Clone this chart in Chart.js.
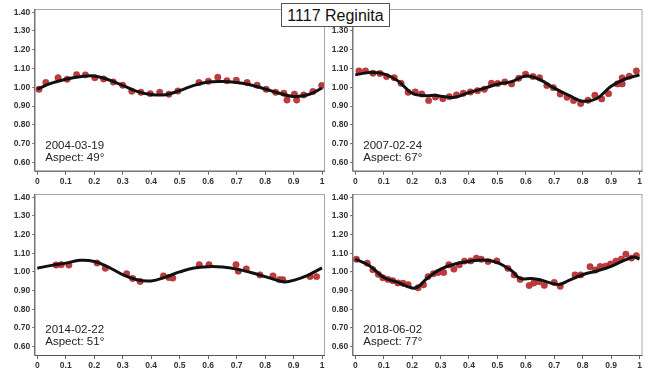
<!DOCTYPE html>
<html>
<head>
<meta charset="utf-8">
<script src="https://cdn.jsdelivr.net/npm/chart.js@4"></script>
<style>
  body { margin: 0; background: #fff; }
  #wrap { position: relative; width: 647px; height: 373px; overflow: hidden; background: #fff; }
  #wrap canvas { position: absolute; }
  #title {
    position: absolute; left: 281px; top: 3px; width: 107px; height: 22px;
    border: 1px solid #555; background: #fff; z-index: 5;
    font: 16px "Liberation Sans", Arial, sans-serif; color: #111;
    text-align: center; line-height: 23px;
  }
</style>
</head>
<body>
<div id="wrap">
  <canvas id="c0" width="330" height="190" style="left:0;top:0"></canvas>
  <canvas id="c1" width="327" height="190" style="left:320px;top:0"></canvas>
  <canvas id="c2" width="330" height="193" style="left:0;top:180px"></canvas>
  <canvas id="c3" width="327" height="193" style="left:320px;top:180px"></canvas>
  <div id="title">1117 Reginita</div>
</div>
<script>
// axis ticks
const xTicks = [0, 0.1, 0.2, 0.3, 0.4, 0.5, 0.6, 0.7, 0.8, 0.9, 1];
const yTicks = [0.6, 0.7, 0.8, 0.9, 1.0, 1.1, 1.2, 1.3, 1.4];

// session labels
const dates = ['2004-03-19', '2007-02-24', '2014-02-22', '2018-06-02'];
const aspects = [49, 67, 51, 77];

// 2004-03-19
const obs2004Phase = [0.006, 0.030, 0.073, 0.105, 0.138, 0.169, 0.202, 0.233, 0.267, 0.300, 0.332, 0.364, 0.397, 0.430, 0.462, 0.494, 0.568, 0.601, 0.634, 0.666, 0.699, 0.737, 0.772, 0.804, 0.837, 0.866, 0.877, 0.903, 0.911, 0.936, 0.968, 0.999];
const obs2004Mag = [0.989, 1.025, 1.051, 1.043, 1.067, 1.066, 1.051, 1.044, 1.028, 1.011, 0.979, 0.973, 0.966, 0.973, 0.963, 0.980, 1.025, 1.032, 1.053, 1.035, 1.037, 1.025, 1.011, 0.989, 0.973, 0.968, 0.932, 0.963, 0.932, 0.959, 0.977, 1.009];
const fit2004Phase = [0, 0.05, 0.1, 0.15, 0.2, 0.25, 0.3, 0.35, 0.4, 0.45, 0.5, 0.55, 0.6, 0.65, 0.7, 0.75, 0.8, 0.85, 0.9, 0.95, 1];
const fit2004Mag = [0.99, 1.022, 1.043, 1.056, 1.06, 1.04, 1.01, 0.978, 0.961, 0.96, 0.982, 1.01, 1.028, 1.031, 1.025, 1.012, 0.991, 0.968, 0.951, 0.96, 0.995];

// 2007-02-24
const obs2007Phase = [0.013, 0.036, 0.062, 0.087, 0.110, 0.137, 0.161, 0.186, 0.211, 0.234, 0.258, 0.282, 0.308, 0.331, 0.356, 0.380, 0.405, 0.430, 0.454, 0.479, 0.501, 0.526, 0.550, 0.575, 0.599, 0.625, 0.648, 0.674, 0.697, 0.721, 0.745, 0.768, 0.793, 0.819, 0.843, 0.867, 0.891, 0.922, 0.939, 0.939, 0.964, 0.989];
const obs2007Mag = [1.087, 1.087, 1.075, 1.073, 1.057, 1.051, 1.021, 0.973, 0.975, 0.964, 0.929, 0.948, 0.939, 0.950, 0.959, 0.968, 0.975, 0.982, 0.989, 1.021, 1.020, 1.028, 1.018, 1.048, 1.069, 1.057, 1.051, 1.009, 0.998, 0.964, 0.947, 0.929, 0.913, 0.931, 0.957, 0.938, 0.966, 1.018, 1.050, 1.018, 1.059, 1.087];
const fit2007Phase = [0, 0.05, 0.1, 0.15, 0.2, 0.25, 0.28, 0.3, 0.35, 0.4, 0.45, 0.5, 0.55, 0.6, 0.65, 0.7, 0.75, 0.8, 0.85, 0.9, 0.95, 1];
const fit2007Mag = [1.066, 1.078, 1.071, 1.034, 0.968, 0.955, 0.957, 0.952, 0.947, 0.972, 0.993, 1.016, 1.03, 1.06, 1.04, 0.995, 0.958, 0.926, 0.94, 1.005, 1.044, 1.066];

// 2014-02-22
const obs2014Phase = [0.066, 0.084, 0.111, 0.210, 0.239, 0.314, 0.335, 0.361, 0.443, 0.462, 0.476, 0.569, 0.603, 0.698, 0.706, 0.734, 0.782, 0.828, 0.850, 0.862, 0.958, 0.981];
const obs2014Mag = [1.037, 1.039, 1.037, 1.048, 1.020, 0.990, 0.965, 0.949, 0.979, 0.970, 0.967, 1.039, 1.039, 1.039, 1.004, 1.016, 0.984, 0.979, 0.959, 0.959, 0.975, 0.975];
const fit2014Phase = [0, 0.05, 0.1, 0.15, 0.2, 0.25, 0.3, 0.35, 0.4, 0.45, 0.5, 0.55, 0.6, 0.65, 0.7, 0.75, 0.8, 0.85, 0.87, 0.9, 0.95, 1];
const fit2014Mag = [1.02, 1.035, 1.047, 1.062, 1.056, 1.026, 0.985, 0.958, 0.952, 0.972, 1.0, 1.021, 1.028, 1.026, 1.015, 0.997, 0.975, 0.952, 0.946, 0.955, 0.982, 1.022];

// 2018-06-02
const obs2018Phase = [0.004, 0.042, 0.062, 0.081, 0.097, 0.115, 0.132, 0.150, 0.168, 0.186, 0.221, 0.240, 0.256, 0.275, 0.291, 0.311, 0.329, 0.347, 0.366, 0.384, 0.406, 0.426, 0.443, 0.467, 0.498, 0.537, 0.559, 0.580, 0.612, 0.628, 0.646, 0.665, 0.700, 0.721, 0.773, 0.793, 0.826, 0.845, 0.862, 0.881, 0.898, 0.917, 0.936, 0.952, 0.972, 0.989];
const obs2018Mag = [1.068, 1.047, 1.012, 0.987, 0.969, 0.960, 0.953, 0.941, 0.939, 0.932, 0.915, 0.931, 0.975, 0.990, 0.997, 0.997, 1.038, 1.015, 1.038, 1.058, 1.059, 1.074, 1.068, 1.056, 1.059, 1.019, 0.984, 0.960, 0.927, 0.941, 0.948, 0.928, 0.944, 0.923, 0.984, 0.984, 1.028, 1.010, 1.029, 1.031, 1.042, 1.058, 1.068, 1.095, 1.074, 1.087];
const fit2018Phase = [0, 0.05, 0.1, 0.15, 0.2, 0.22, 0.25, 0.3, 0.35, 0.4, 0.45, 0.5, 0.55, 0.58, 0.62, 0.65, 0.7, 0.72, 0.75, 0.8, 0.85, 0.9, 0.95, 0.98, 1];
const fit2018Mag = [1.068, 1.033, 0.971, 0.944, 0.914, 0.92, 0.962, 1.015, 1.042, 1.056, 1.064, 1.05, 1.006, 0.965, 0.965, 0.958, 0.935, 0.934, 0.953, 0.985, 1.005, 1.03, 1.064, 1.08, 1.068];

const FONT = '"Liberation Sans", Arial, sans-serif';

// frame round the plot area + date/aspect text
const framePlugin = {
    id: 'frame',
    afterDatasetsDraw(chart, args, opts) {
        const { ctx, chartArea: a } = chart;
        ctx.save();
        ctx.strokeStyle = '#a8a8a8';
        ctx.lineWidth = 1;
        ctx.strokeRect(a.left + 0.5, a.top + 0.5, a.right - a.left - 1, a.bottom - a.top - 1);
        ctx.strokeStyle = '#555';
        ctx.beginPath();
        ctx.moveTo(a.left + 0.5, a.top);
        ctx.lineTo(a.left + 0.5, a.bottom - 0.5);
        ctx.lineTo(a.right, a.bottom - 0.5);
        ctx.stroke();
        ctx.fillStyle = '#222';
        ctx.font = '11.5px ' + FONT;
        ctx.textBaseline = 'middle';
        ctx.fillText(opts.date, a.left + 11, a.bottom - 26);
        ctx.fillText('Aspect: ' + opts.aspect + '\u00b0', a.left + 11, a.bottom - 14.3);
        ctx.restore();
    }
};

function makePanel(id, i, px, py, fx, fy, box) {
    const ctx = document.getElementById(id).getContext('2d');
    return new Chart(ctx, {
        type: 'scatter',
        data: {
            datasets: [{
                label: 'fit',
                data: fx.map((x, k) => ({ x: x, y: fy[k] })),
                showLine: true,
                borderColor: '#111',
                borderWidth: 3,
                pointRadius: 0,
                tension: 0.4,
                order: 0
            }, {
                label: 'obs',
                data: px.map((x, k) => ({ x: x, y: py[k] })),
                pointRadius: 3.2,
                pointBackgroundColor: '#c23a3c',
                pointBorderColor: '#a52c2e',
                pointBorderWidth: 0.5,
                order: 1
            }]
        },
        options: {
            responsive: false,
            devicePixelRatio: 1,
            animation: false,
            layout: { padding: { top: box.top, right: box.right, left: 0, bottom: 0 } },
            plugins: {
                legend: { display: false },
                tooltip: { enabled: false },
                frame: { date: dates[i], aspect: aspects[i] }
            },
            scales: {
                x: {
                    type: 'linear',
                    min: -0.0105,
                    max: 1.0105,
                    afterBuildTicks: s => { s.ticks = xTicks.map(v => ({ value: v })); },
                    afterFit: s => { s.height = box.xh; },
                    border: { display: false },
                    grid: { drawOnChartArea: false, tickLength: 3, color: '#666' },
                    ticks: {
                        padding: 2,
                        maxRotation: 0,
                        autoSkip: false,
                        color: '#333',
                        font: { family: FONT, size: 8.5, weight: 'bold' },
                        callback: v => String(v)
                    }
                },
                y: {
                    min: 0.55,
                    max: 1.417,
                    afterBuildTicks: s => { s.ticks = yTicks.map(v => ({ value: v })); },
                    afterFit: s => { s.width = box.yw; },
                    border: { display: false },
                    grid: { drawOnChartArea: false, tickLength: 2, color: '#666' },
                    ticks: {
                        padding: 2,
                        autoSkip: false,
                        color: '#333',
                        font: { family: FONT, size: 8.5, weight: 'bold' },
                        callback: v => v.toFixed(2)
                    }
                }
            }
        },
        plugins: [framePlugin]
    });
}

makePanel('c0', 0, obs2004Phase, obs2004Mag, fit2004Phase, fit2004Mag, { top: 9, right: 5, xh: 18.3, yw: 34.3 });
makePanel('c1', 1, obs2007Phase, obs2007Mag, fit2007Phase, fit2007Mag, { top: 9, right: 4.3, xh: 18.3, yw: 32.3 });
makePanel('c2', 2, obs2014Phase, obs2014Mag, fit2014Phase, fit2014Mag, { top: 14, right: 5, xh: 17, yw: 34.3 });
makePanel('c3', 3, obs2018Phase, obs2018Mag, fit2018Phase, fit2018Mag, { top: 14, right: 4.3, xh: 17, yw: 32.3 });
</script>
</body>
</html>
